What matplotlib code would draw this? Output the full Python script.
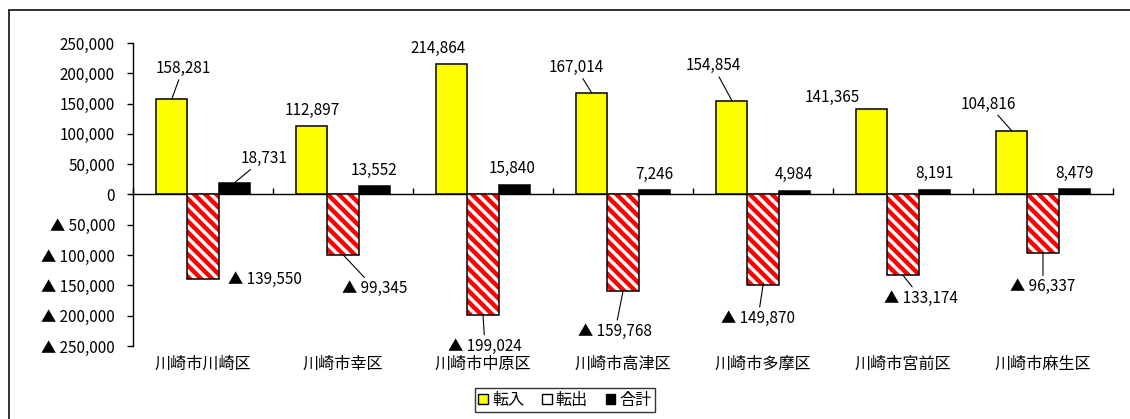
import matplotlib
matplotlib.use("Agg")
import matplotlib.pyplot as plt
from matplotlib.patches import Patch, Rectangle
from matplotlib.ticker import FuncFormatter, MultipleLocator
import numpy as np

plt.rcParams['font.family'] = ['Noto Sans CJK JP', 'DejaVu Sans']
plt.rcParams['hatch.linewidth'] = 3.2

districts = ['川崎市川崎区', '川崎市幸区', '川崎市中原区', '川崎市高津区',
             '川崎市多摩区', '川崎市宮前区', '川崎市麻生区']
tennyu = [158281, 112897, 214864, 167014, 154854, 141365, 104816]      # 転入
tenshutsu = [-139550, -99345, -199024, -159768, -149870, -133174, -96337]  # 転出
goukei = [18731, 13552, 15840, 7246, 4984, 8191, 8479]                 # 合計
legend_labels = ['転入', '転出', '合計']

# label offsets in pixels from the bar end (dx, dy) and whether a leader line is drawn
in_off = [(11, 30), (0, 16), (-14, 16), (-16, 26), (-19, 35), (-40, 11), (-24, 27)]
in_lead = [True, False, False, True, True, False, True]
out_off = [(62, 0), (32, -34), (2, -31), (-8, -40), (-5, -33), (18, -23), (0, -34)]
out_lead = [False, True, True, True, True, True, True]
tot_off = [(30, 25), (0, 16), (-2, 16), (0, 16), (0, 17), (0, 16), (0, 16)]
tot_lead = [True, False, False, False, False, False, False]

fig = plt.figure(figsize=(11.3, 4.19), dpi=100)
ax = fig.add_axes([133 / 1130, 73 / 419, 980 / 1130, 303 / 419])

x = np.arange(len(districts))
w = 0.222

ax.bar(x - w, tennyu, w, color='#ffff00', edgecolor='black', linewidth=1.1, zorder=3)
# hatched bars: red stripes, then a black outline on top
ax.bar(x, tenshutsu, w, color='white', edgecolor='red', hatch='\\\\\\', linewidth=0, zorder=3)
ax.bar(x, tenshutsu, w, fill=False, edgecolor='black', linewidth=1.1, zorder=4)
ax.bar(x + w, goukei, w, color='black', edgecolor='black', linewidth=1.1, zorder=3)


def fmt(v):
    if v < 0:
        return '▲ {:,}'.format(-v)
    return '{:,}'.format(v)


def put_labels(xs, vals, offs, leads):
    for xi, v, off, lead in zip(xs, vals, offs, leads):
        kw = {}
        if lead:
            kw['arrowprops'] = dict(arrowstyle='-', color='black', lw=0.8,
                                    shrinkA=0, shrinkB=0)
        ax.annotate(fmt(v), xy=(xi, v), xytext=off, textcoords='offset pixels',
                    ha='center', va='center', fontsize=11, zorder=5, **kw)


put_labels(x - w, tennyu, in_off, in_lead)
put_labels(x, tenshutsu, out_off, out_lead)
put_labels(x + w, goukei, tot_off, tot_lead)

ax.set_xlim(-0.5, len(districts) - 0.5)
ax.set_ylim(-250000, 250000)
ax.yaxis.set_major_locator(MultipleLocator(50000))
ax.yaxis.set_major_formatter(FuncFormatter(lambda v, p: fmt(int(round(v)))))
ax.tick_params(axis='y', direction='out', length=4, width=1, pad=9, labelsize=11)

for s in ['top', 'right']:
    ax.spines[s].set_visible(False)
ax.spines['left'].set_linewidth(1)
ax.spines['bottom'].set_position(('data', 0))
ax.spines['bottom'].set_linewidth(1)
ax.set_xticks(np.arange(-0.5, len(districts), 1.0))
ax.set_xticklabels([])
ax.tick_params(axis='x', direction='in', length=4, width=1)

for xi, name in zip(x, districts):
    ax.text(xi, -0.06, name, transform=ax.get_xaxis_transform(),
            ha='center', va='center', fontsize=11.6)

handles = [Patch(facecolor='#ffff00', edgecolor='black'),
           Patch(facecolor='white', edgecolor='black'),
           Patch(facecolor='black', edgecolor='black')]
leg = fig.legend(handles, legend_labels, loc='center', bbox_to_anchor=(0.5, 19 / 419),
                 ncol=3, fontsize=11.6, frameon=True, fancybox=False,
                 handlelength=0.6, handleheight=0.6, handletextpad=0.25,
                 columnspacing=1.1, borderpad=0.2, borderaxespad=0)
leg.get_frame().set_edgecolor('black')
leg.get_frame().set_linewidth(1)

# outer chart border (cut off at the right and bottom)
fig.patches.append(Rectangle((9 / 1130, -0.1), 1.2, 1 - 10 / 419 + 0.1,
                             transform=fig.transFigure, fill=False,
                             edgecolor='#222222', linewidth=1.3))

fig.savefig('out.png', dpi=100)
